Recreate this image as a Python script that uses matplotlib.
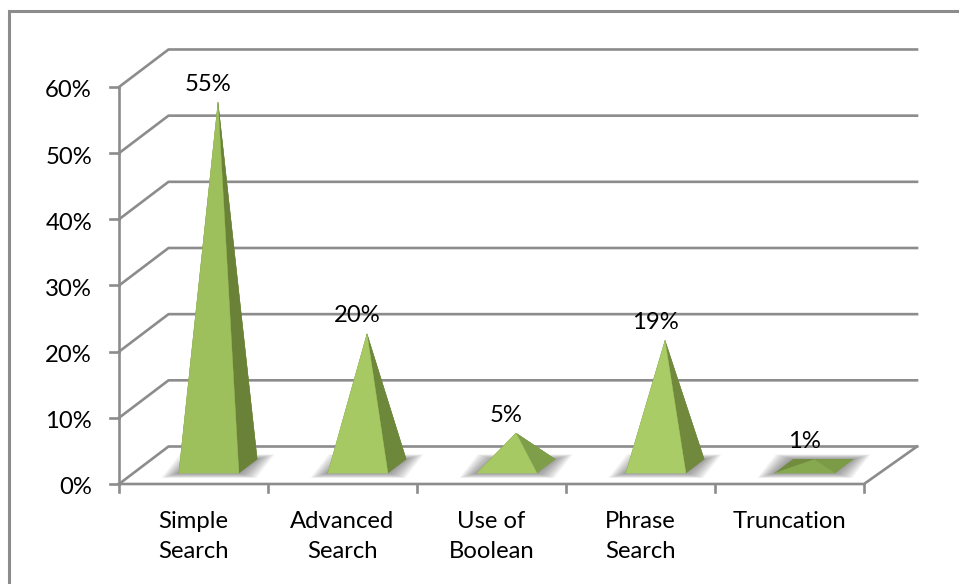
import matplotlib
matplotlib.use("Agg")
import matplotlib.pyplot as plt
from matplotlib.patches import Polygon

categories = ["Simple\nSearch", "Advanced\nSearch", "Use of\nBoolean", "Phrase\nSearch", "Truncation"]
values = [55, 20, 5, 19, 1]
value_labels = ["55%", "20%", "5%", "19%", "1%"]
y_ticks = [0, 10, 20, 30, 40, 50, 60]
y_tick_labels = ["0%", "10%", "20%", "30%", "40%", "50%", "60%"]

front_colors = ["#9dc05c", "#a6c963", "#a7c964", "#a9cc66", "#86a84f"]
side_colors = ["#6a8238", "#6e883b", "#7f9e49", "#71893d", "#7b9b47"]
back_color = "#708c3c"
line_color = "#8c8c8c"

plt.rcParams["font.family"] = ["Lato", "DejaVu Sans"]

W, H = 959, 584
LEFT_PX, ZERO_PX = 119.0, 484.0
CAT_PX, PCT_PX = 149.0, 6.617
PX_X, PX_Y = 1 / CAT_PX, 1 / PCT_PX
FONT_SIZE = 17.2

fig = plt.figure(figsize=(W / 100, H / 100), dpi=100, facecolor="white")
ax = fig.add_axes([0, 0, 1, 1])
ax.set_xlim(-LEFT_PX * PX_X, (W - LEFT_PX) * PX_X)
ax.set_ylim(-(H - ZERO_PX) * PX_Y, ZERO_PX * PX_Y)
ax.axis("off")

# Oblique offset of the back wall, in data units
DX, DY = 49.5 * PX_X, 37.5 * PX_Y
n = len(categories)
lw = 1.9

# Outer chart frame: top and left edges only
ax.plot([-(LEFT_PX - 9) * PX_X, -(LEFT_PX - 9) * PX_X, (W - LEFT_PX) * PX_X],
        [-(H - ZERO_PX) * PX_Y, (ZERO_PX - 11) * PX_Y, (ZERO_PX - 11) * PX_Y],
        color=line_color, lw=2.2, solid_joinstyle="miter")

# Gridlines: side wall diagonal, then across the back wall
back_end = n + 53 * PX_X
for t, lab in zip(y_ticks, y_tick_labels):
    ax.plot([0, DX, back_end], [t, t + DY, t + DY], color=line_color, lw=lw, zorder=1)
    ax.plot([-9 * PX_X, 0], [t, t], color=line_color, lw=lw, zorder=1)
    ax.text(-27 * PX_X, t - 2 * PX_Y, lab, ha="right", va="center_baseline",
            fontsize=FONT_SIZE, color="black")

# Floor and vertical axis
ax.plot([0, 0], [0, y_ticks[-1]], color=line_color, lw=lw, zorder=1)
ax.plot([0, n, back_end], [0, 0, DY], color=line_color, lw=lw, zorder=1)
for i in range(n + 1):
    ax.plot([i, i], [0, -8 * PX_Y], color=line_color, lw=lw, zorder=1)

# Pyramids sit on a square base part-way into the floor depth
HALF_W = 30 * PX_X
D_FRONT, D_BACK = 0.29, 0.66
NUDGE = 1.0 * PX_X

for i, (val, lab) in enumerate(zip(values, value_labels)):
    cx = i + 0.5 + NUDGE
    fl = (cx - HALF_W + D_FRONT * DX, D_FRONT * DY)
    fr = (cx + HALF_W + D_FRONT * DX, D_FRONT * DY)
    br = (cx + HALF_W + D_BACK * DX, D_BACK * DY)
    bl = (cx - HALF_W + D_BACK * DX, D_BACK * DY)
    dm = (D_FRONT + D_BACK) / 2
    apex = (cx + dm * DX, dm * DY + val)

    # Soft floor shadow built from stacked translucent parallelograms
    for k in range(1, 15):
        ex, ey = k * 1.25 * PX_X, k * 0.35 * PX_Y
        ax.add_patch(Polygon(
            [(fl[0] - ex, fl[1] - ey), (fr[0] + ex, fr[1] - ey),
             (br[0] + ex, br[1] + ey), (bl[0] - ex, bl[1] + ey)],
            closed=True, fc="#505050", ec="none", alpha=0.05, zorder=2))

    faces = [([bl, br, apex], back_color),
             ([fl, bl, apex], back_color),
             ([fr, br, apex], side_colors[i]),
             ([fl, fr, apex], front_colors[i])]
    for pts, col in faces:
        ax.add_patch(Polygon(pts, closed=True, fc=col, ec=col, lw=0.3, zorder=3))

    ax.text(apex[0] - 9.5 * PX_X, apex[1] + 20 * PX_Y, lab, ha="center", va="center_baseline",
            fontsize=FONT_SIZE, color="black", zorder=5)

    ax.text(i + 0.5, -27 * PX_Y, categories[i], ha="center", va="top", fontsize=FONT_SIZE,
            color="black", linespacing=1.5)

fig.savefig("out.png", dpi=100, facecolor="white")
